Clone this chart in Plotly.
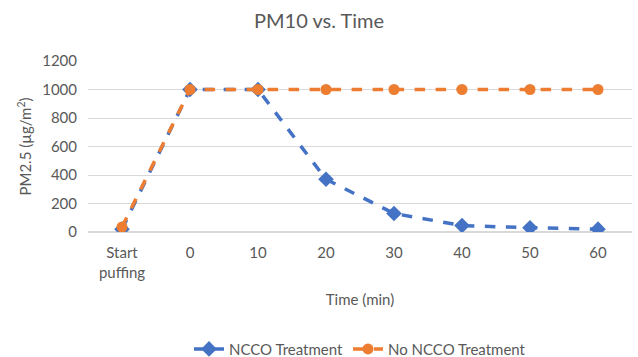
import plotly.graph_objects as go

categories = ["Start<br>puffing", "0", "10", "20", "30", "40", "50", "60"]
ncco = [20, 1000, 1000, 370, 130, 45, 30, 20]
no_ncco = [35, 1000, 1000, 1000, 1000, 1000, 1000, 1000]

fig = go.Figure()
fig.add_trace(go.Scatter(
    x=categories, y=ncco, name="NCCO Treatment", mode="lines+markers",
    line=dict(color="#4472C4", width=3.5, dash="dash"),
    marker=dict(symbol="diamond", size=12, color="#4472C4")))
fig.add_trace(go.Scatter(
    x=categories, y=no_ncco, name="No NCCO Treatment", mode="lines+markers",
    line=dict(color="#ED7D31", width=3.5, dash="dash"),
    marker=dict(symbol="circle", size=11, color="#ED7D31")))

fig.update_layout(
    width=638, height=357,
    margin=dict(l=88, r=6, t=61, b=125, autoexpand=False),
    paper_bgcolor="white", plot_bgcolor="white",
    font=dict(family="Lato, Open Sans, sans-serif", color="#595959", size=15),
    title=dict(text="PM10 vs. Time", x=0.5, xanchor="center", y=0.94, yanchor="middle",
               font=dict(size=20, color="#595959")),
    showlegend=True,
    legend=dict(orientation="h", x=0.5, xanchor="center", yref="container", y=0.022,
                yanchor="middle", font=dict(size=15, color="#595959")),
    xaxis=dict(type="category", range=[-0.5, 7.5], showgrid=False, zeroline=False,
               showline=False, ticks="", tickfont=dict(size=15), automargin=False,
               ticklabelstandoff=10,
               title=dict(text="Time (min)", font=dict(size=15, color="#595959"), standoff=14)),
    yaxis=dict(range=[0, 1200], dtick=200, showgrid=True, gridcolor="#D9D9D9", gridwidth=1,
               zeroline=True, zerolinecolor="#D9D9D9", showline=False, ticks="",
               ticklabelstandoff=10, tickfont=dict(size=15), automargin=False,
               title=dict(text="PM2.5 (µg/m<sup>2</sup>)", font=dict(size=15, color="#595959"), standoff=6)),
)

fig.write_html("out.html")
